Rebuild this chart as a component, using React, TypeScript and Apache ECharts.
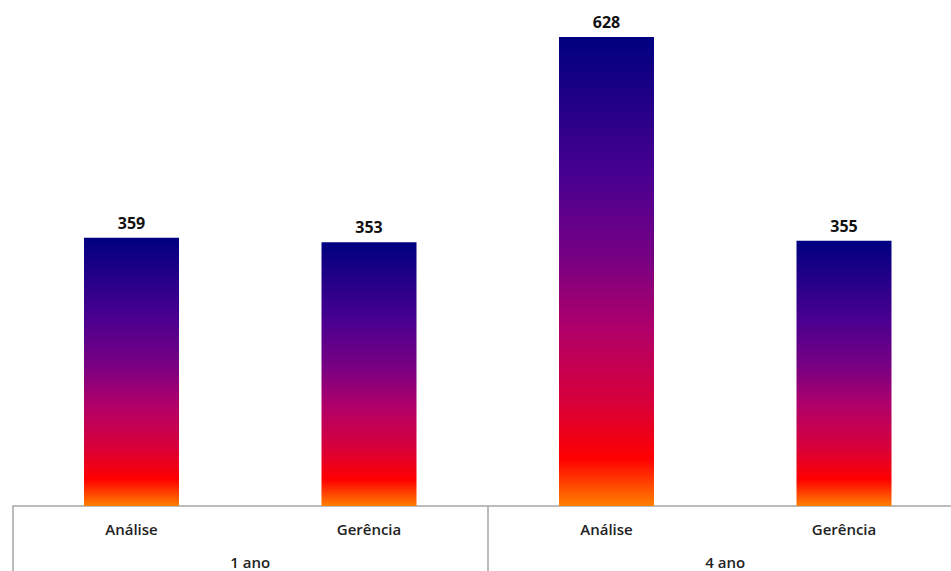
import React, { useEffect, useRef } from "react";
import * as echarts from "echarts";

const categories = ["Análise", "Gerência", "Análise", "Gerência"];
const groups = ["1 ano", "4 ano"];
const values = [359, 353, 628, 355];

export default function App() {
  const ref = useRef<HTMLDivElement>(null);
  useEffect(() => {
    const chart = echarts.init(ref.current!, null, { renderer: "svg" });
    const gradient = new echarts.graphic.LinearGradient(0, 0, 0, 1, [
      { offset: 0, color: "#000080" },
      { offset: 0.3, color: "#4a0090" },
      { offset: 0.48, color: "#7a0082" },
      { offset: 0.62, color: "#b0006a" },
      { offset: 0.78, color: "#d8003a" },
      { offset: 0.9, color: "#ff0000" },
      { offset: 1, color: "#ff8000" },
    ]);
    chart.setOption({
      animation: false,
      backgroundColor: "#ffffff",
      grid: { left: 12.75, right: 12.25, top: 28, bottom: 65 },
      xAxis: [
        {
          type: "category",
          data: categories,
          position: "bottom",
          axisLine: { show: true, lineStyle: { color: "#a6a6a6", width: 1.5 } },
          axisTick: { show: false },
          axisLabel: {
            color: "#222",
            fontFamily: "Open Sans",
            fontWeight: 600,
            fontSize: 15,
            margin: 15,
          },
        },
        {
          type: "category",
          data: groups,
          position: "bottom",
          axisLine: { show: false },
          axisTick: {
            show: true,
            length: 70,
            lineStyle: { color: "#a6a6a6", width: 1.5 },
          },
          axisLabel: {
            color: "#222",
            fontFamily: "Open Sans",
            fontWeight: 600,
            fontSize: 15,
            margin: 48,
          },
        },
      ],
      yAxis: { type: "value", min: 0, max: 640, show: false, splitLine: { show: false } },
      series: [
        {
          type: "bar",
          xAxisIndex: 0,
          data: values,
          barWidth: "40%",
          itemStyle: { color: gradient },
          label: {
            show: true,
            position: "top",
            distance: 7,
            color: "#111",
            fontFamily: "Open Sans",
            fontWeight: "bold",
            fontSize: 16,
          },
        },
      ],
    });
    return () => chart.dispose();
  }, []);
  return (
    <div
      style={{
        position: "fixed",
        left: 0,
        top: 0,
        width: 951,
        height: 571,
        overflow: "hidden",
        background: "#fff",
      }}
    >
      <div ref={ref} style={{ width: 975, height: 571 }} />
    </div>
  );
}
